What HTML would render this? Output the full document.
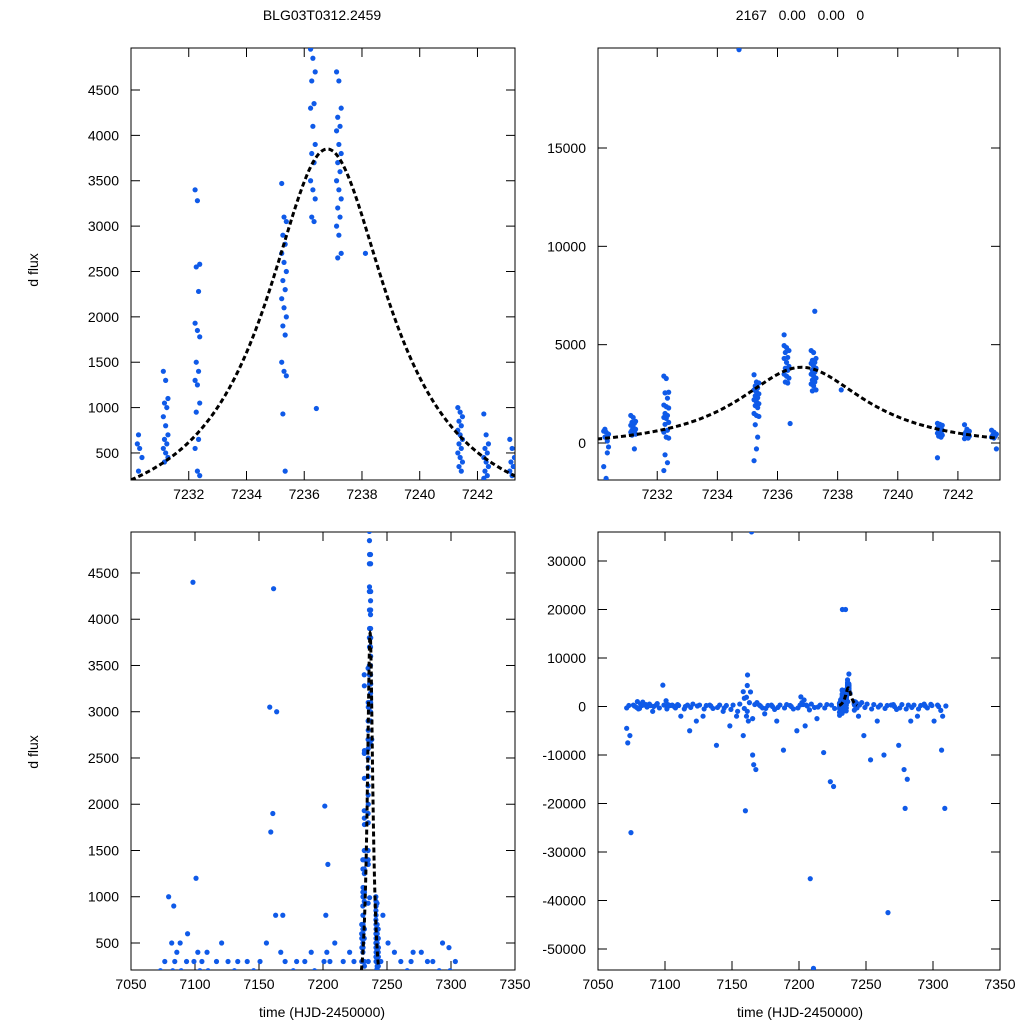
<!DOCTYPE html>
<html><head><meta charset="utf-8"><style>
html,body{margin:0;background:#fff;width:1024px;height:1024px;overflow:hidden}
svg{display:block;font-family:"Liberation Sans",sans-serif}
</style></head><body>
<svg id="chart" width="1024" height="1024" viewBox="0 0 1024 1024">
<text x="322" y="20" font-size="14" text-anchor="middle">BLG03T0312.2459</text>
<text x="800" y="20" font-size="14" text-anchor="middle" xml:space="preserve">2167   0.00   0.00   0</text>
<text transform="translate(38,270) rotate(-90)" font-size="14" text-anchor="middle">d flux</text>
<text transform="translate(38,752) rotate(-90)" font-size="14" text-anchor="middle">d flux</text>
<text x="322" y="1017" font-size="14" text-anchor="middle">time (HJD-2450000)</text>
<text x="800" y="1017" font-size="14" text-anchor="middle">time (HJD-2450000)</text>
</svg>
<script>
// event-window clusters: [time, [flux values]]
const eventClusters = [
 [7230.3,[600,550,450,300,-500,-1200,-1800,-200,700,100]],
 [7231.2,[1400,1300,1100,1050,1000,900,800,700,650,600,550,500,450,400,-300]],
 [7232.3,[3400,3280,2580,2550,2280,1930,1850,1780,1500,1400,1300,1250,1050,950,650,550,300,250,-600,-1000,-1400]],
 [7235.3,[3470,3100,3050,2900,2800,2700,2600,2500,2400,2300,2200,2100,2000,1900,1800,1500,1400,1350,930,300,-900,-300]],
 [7236.3,[4950,4850,4700,4600,4350,4300,4100,3900,3800,3700,3500,3400,3300,3100,3050,5500]],
 [7236.5,[990]],
 [7237.2,[4700,4600,4300,4200,4100,4050,3900,3800,3700,3600,3500,3400,3300,3200,3100,3000,2900,2700,2650,6700]],
 [7238.2,[2700]],
 [7234.8,[20000]],
 [7241.4,[1000,950,900,850,800,750,700,650,600,550,500,450,400,350,300,-750]],
 [7242.3,[930,700,600,550,500,450,400,350,300,250,220]],
 [7243.2,[650,550,450,400,350,300,250,-300]]
];
// full-season clusters
const seasonClusters = [
 [7073,[-4500,-6000,-7500,-26000,200,-300]],[7078,[300,-200,100]],[7081,[1000,500,-500,200,-400]],
 [7085,[900,400,300,-100]],[7090,[500,-1000,200,0]],[7095,[300,-300,600]],[7100,[4400,1200,300,-200]],
 [7103,[-500,200,400]],[7107,[300,-300,100]],[7111,[400,-2000,200]],[7116,[-500,300,0]],
 [7120,[-5000,500,-200]],[7125,[-3000,300,100]],[7130,[-2000,200,-500]],[7135,[300,-400,100]],
 [7140,[-8000,300,-200]],[7145,[-1000,200,-300]],[7150,[-4000,300,-600]],[7155,[-2000,500,-1000]],
 [7160,[3050,1900,1700,6500,-21500,-6000,-2000,-400]],[7163,[4330,3000,-3000,36000,800,-1000]],
 [7167,[-10000,-13000,-12000,800,400,-2500]],[7172,[300,-300,100]],[7176,[-1500,200,-400]],
 [7181,[300,-600,0]],[7185,[-3000,300,-200]],[7190,[-9000,400,-300]],[7195,[200,-500,0]],
 [7200,[-5000,300,-300]],[7203,[1980,1350,800,-4000,400]],[7207,[300,-700,100]],
 [7210,[-35500,-54000,500,-200]],[7215,[-2500,300,-100]],[7220,[-9500,400,-300]],
 [7225,[-15500,-16500,300,-400]],[7234,[20000]],[7246,[-2000,800,300]],[7250,[-6000,500,-200]],
 [7255,[-11000,400,-500]],[7260,[-3000,300,-100]],[7265,[-10000,200,-400]],[7268,[-42500,300]],
 [7272,[400,-600,0]],[7276,[-8000,400,-300]],[7280,[-13000,-15000,-21000,300,-500]],
 [7285,[-3000,300,-200]],[7290,[-2000,200,-500]],[7295,[500,-300,100]],[7300,[450,-3000,200]],
 [7305,[300,-800,0]],[7308,[-9000,-21000,-2000,100]]
];
const modelPeak = 4180, modelT0 = 7236.8, modelWidth = 2.6, modelOffset = 330;
const xTicksZoom = [7232,7234,7236,7238,7240,7242];
const xTicksFull = [7050,7100,7150,7200,7250,7300,7350];
const yTicksA = [500,1000,1500,2000,2500,3000,3500,4000,4500];
const yTicksB = [0,5000,10000,15000];
const yTicksD = [-50000,-40000,-30000,-20000,-10000,0,10000,20000,30000];

const NS="http://www.w3.org/2000/svg";
const svg=document.getElementById('chart');
function mk(tag,attrs,parent){const e=document.createElementNS(NS,tag);for(const k in attrs)e.setAttribute(k,attrs[k]);(parent||svg).appendChild(e);return e;}

const evPts=[], sePts=[];
eventClusters.forEach(c=>c[1].forEach((v,i)=>evPts.push([c[0]+((i*7)%5-2)*0.04,v])));
seasonClusters.forEach(c=>c[1].forEach((v,i)=>sePts.push([c[0]+((i*3)%5-2)*0.8,v])));

function model(t){const d=(t-modelT0)/modelWidth;return modelPeak/(1+d*d)-modelOffset;}

const panels=[
 {name:'top-left',x0:131,x1:515,y0:48,y1:480,xmin:7230.0,xmax:7243.3,ymin:202,ymax:4963,xt:xTicksZoom,yt:yTicksA,full:false},
 {name:'top-right',x0:598,x1:1000,y0:48,y1:480,xmin:7230.03,xmax:7243.4,ymin:-1881,ymax:20084,xt:xTicksZoom,yt:yTicksB,full:false},
 {name:'bottom-left',x0:131,x1:515,y0:532,y1:970,xmin:7050,xmax:7350,ymin:208,ymax:4943,xt:xTicksFull,yt:yTicksA,full:true},
 {name:'bottom-right',x0:598,x1:1000,y0:532,y1:970,xmin:7050,xmax:7350,ymin:-54330,ymax:35979,xt:xTicksFull,yt:yTicksD,full:true}
];
panels.forEach((p,pi)=>{
 const sx=t=>p.x0+(t-p.xmin)/(p.xmax-p.xmin)*(p.x1-p.x0);
 const sy=v=>p.y1-(v-p.ymin)/(p.ymax-p.ymin)*(p.y1-p.y0);
 const g=mk('g',{});
 
 
 const cid='clip'+pi;
 const cp=mk('clipPath',{id:cid},g);mk('rect',{x:p.x0,y:p.y0,width:p.x1-p.x0,height:p.y1-p.y0},cp);
 const frame=mk('rect',{x:p.x0,y:p.y0,width:p.x1-p.x0,height:p.y1-p.y0,fill:'none',stroke:'#000','stroke-width':1},g);
 
 
 p.xt.forEach(t=>{const x=sx(t);
  mk('line',{x1:x,x2:x,y1:p.y1,y2:p.y1-9,stroke:'#000'},g);
  mk('line',{x1:x,x2:x,y1:p.y0,y2:p.y0+9,stroke:'#000'},g);
  const tx=mk('text',{x:x,y:p.y1+19,'font-size':14,'text-anchor':'middle'},g);tx.textContent=t;
  
  
 });
 p.yt.forEach(v=>{const y=sy(v);
  mk('line',{x1:p.x0,x2:p.x0+9,y1:y,y2:y,stroke:'#000'},g);
  mk('line',{x1:p.x1,x2:p.x1-9,y1:y,y2:y,stroke:'#000'},g);
  const tx=mk('text',{x:p.x0-12,y:y+5,'font-size':14,'text-anchor':'end'},g);tx.textContent=v;
  
  
 });
 const pg=mk('g',{'clip-path':'url(#'+cid+')'},g);
 
 
 const list=p.full?evPts.concat(sePts):evPts;
 list.forEach(q=>{mk('circle',{cx:sx(q[0]),cy:sy(q[1]),r:2.6,fill:'#0f5ae8'},pg);});
 let d='';for(let t=7230.0;t<=7243.4;t+=0.05){d+=(d?'L':'M')+sx(t).toFixed(2)+','+sy(model(t)).toFixed(2);}
 const path=mk('path',{d:d,fill:'none',stroke:'#000','stroke-width':3,'stroke-dasharray':'5,3','clip-path':'url(#'+cid+')'},g);
 
 
});
</script>
</body></html>
